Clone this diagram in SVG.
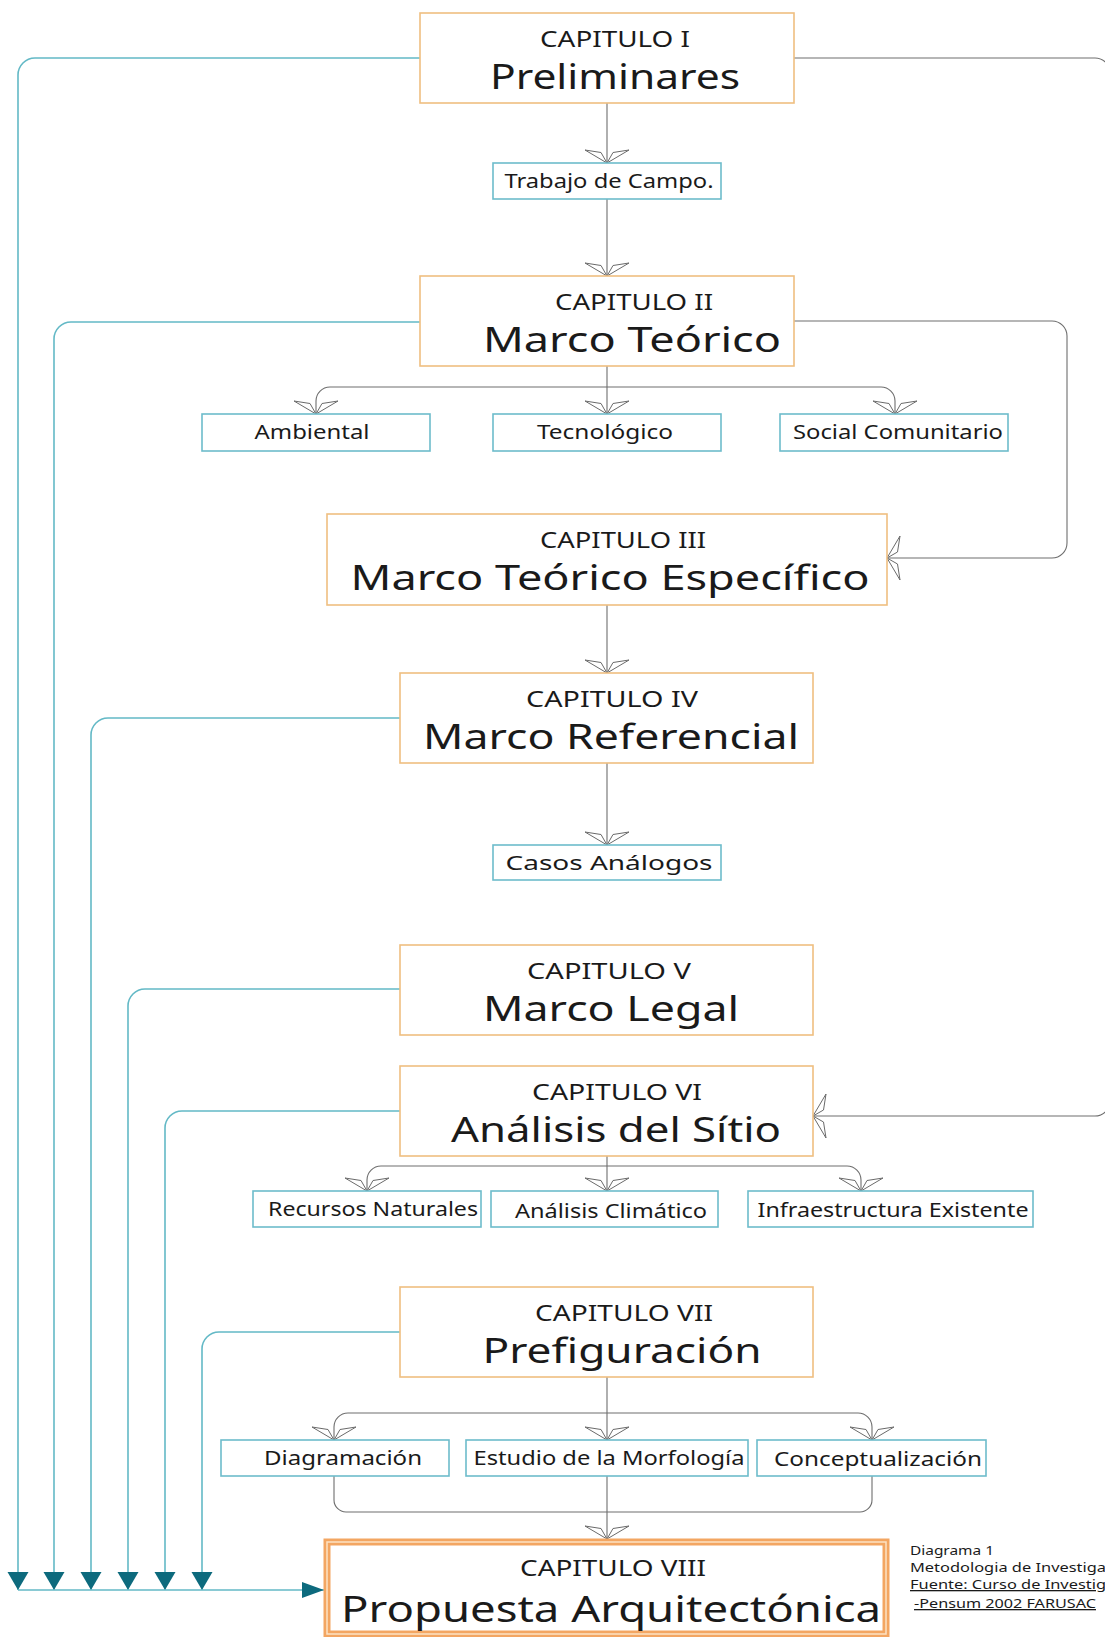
<svg xmlns="http://www.w3.org/2000/svg" width="1105" height="1637" viewBox="0 0 1105 1637">
<style>
text{font-family:"Noto Sans","Open Sans","DejaVu Sans",sans-serif;fill:#1a1a1a;text-anchor:middle}
.ob{fill:#fff;stroke:#efbf80;stroke-width:1.6}
.tb{fill:#fff;stroke:#6dbccb;stroke-width:1.6}
.cap{font-size:22px}
.ttl{font-size:35px}
.big{font-size:37px}
.lbl{font-size:20.5px}
.cn{fill:none;stroke:#6e6e6e;stroke-width:1.1}
.tl{fill:none;stroke:#63b9c6;stroke-width:1.6}
.cap2{font-size:13px;text-anchor:start}
</style>
<defs>
<marker id="oa" viewBox="-16 -24 18 48" refX="0" refY="0" markerWidth="18" markerHeight="48" markerUnits="userSpaceOnUse" orient="auto">
<path d="M0,0 L-13,-22 L-10.5,-6 Z M0,0 L-13,22 L-10.5,6 Z" fill="#fff" stroke="#6a6a6a" stroke-width="1" stroke-linejoin="round"/>
</marker>
<marker id="ta" viewBox="-19 -11 20 22" refX="0" refY="0" markerWidth="20" markerHeight="22" markerUnits="userSpaceOnUse" orient="auto">
<path d="M0,0 L-18,-10.5 L-18,10.5 Z" fill="#0d6a7d"/>
</marker>
<marker id="tr" viewBox="-23 -9 24 18" refX="0" refY="0" markerWidth="24" markerHeight="18" markerUnits="userSpaceOnUse" orient="auto">
<path d="M0,0 L-22,-8 L-22,8 Z" fill="#0d6a7d"/>
</marker>
</defs>
<rect width="1105" height="1637" fill="#fff"/>

<g id="connectors">
<path class="tl" d="M420,58 H35 A17,17 0 0 0 18,75 V1590" marker-end="url(#ta)"/>
<path class="tl" d="M420,322 H71 A17,17 0 0 0 54,339 V1590" marker-end="url(#ta)"/>
<path class="tl" d="M400,718 H108 A17,17 0 0 0 91,735 V1590" marker-end="url(#ta)"/>
<path class="tl" d="M400,989 H145 A17,17 0 0 0 128,1006 V1590" marker-end="url(#ta)"/>
<path class="tl" d="M400,1111 H182 A17,17 0 0 0 165,1128 V1590" marker-end="url(#ta)"/>
<path class="tl" d="M400,1332 H219 A17,17 0 0 0 202,1349 V1590" marker-end="url(#ta)"/>
<path class="tl" d="M18,1590 H324" marker-end="url(#tr)"/>

<path class="cn" d="M607,103 V163" marker-end="url(#oa)"/>
<path class="cn" d="M607,199 V276" marker-end="url(#oa)"/>
<path class="cn" d="M607,366 V414" marker-end="url(#oa)"/>
<path class="cn" d="M607,387 H330 A14,14 0 0 0 316,401 V414" marker-end="url(#oa)"/>
<path class="cn" d="M607,387 H881 A14,14 0 0 1 895,401 V414" marker-end="url(#oa)"/>
<path class="cn" d="M794,321 H1052 A15,15 0 0 1 1067,336 V543 A15,15 0 0 1 1052,558 H887" marker-end="url(#oa)"/>
<path class="cn" d="M794,58 H1095 A15,15 0 0 1 1110,73 V1101 A15,15 0 0 1 1095,1116 H813" marker-end="url(#oa)"/>
<path class="cn" d="M607,605 V673" marker-end="url(#oa)"/>
<path class="cn" d="M607,763 V845" marker-end="url(#oa)"/>
<path class="cn" d="M607,1156 V1191" marker-end="url(#oa)"/>
<path class="cn" d="M607,1166 H381 A14,14 0 0 0 367,1180 V1191" marker-end="url(#oa)"/>
<path class="cn" d="M607,1166 H847 A14,14 0 0 1 861,1180 V1191" marker-end="url(#oa)"/>
<path class="cn" d="M607,1377 V1440" marker-end="url(#oa)"/>
<path class="cn" d="M607,1413 H348 A14,14 0 0 0 334,1427 V1440" marker-end="url(#oa)"/>
<path class="cn" d="M607,1413 H858 A14,14 0 0 1 872,1427 V1440" marker-end="url(#oa)"/>
<path class="cn" d="M334,1476 V1500 A12,12 0 0 0 346,1512 H860 A12,12 0 0 0 872,1500 V1476"/>
<path class="cn" d="M607,1476 V1539" marker-end="url(#oa)"/>
</g>

<g id="cap1"><rect class="ob" x="420" y="13" width="374" height="90"/>
<text class="cap" x="615" y="47" textLength="150" lengthAdjust="spacingAndGlyphs">CAPITULO I</text>
<text class="ttl" x="615" y="89" textLength="250" lengthAdjust="spacingAndGlyphs">Preliminares</text></g>

<g id="trabajo"><rect class="tb" x="493" y="163" width="228" height="36"/>
<text class="lbl" x="609" y="188" textLength="209" lengthAdjust="spacingAndGlyphs">Trabajo de Campo.</text></g>

<g id="cap2"><rect class="ob" x="420" y="276" width="374" height="90"/>
<text class="cap" x="634" y="310" textLength="158" lengthAdjust="spacingAndGlyphs">CAPITULO II</text>
<text class="ttl" x="632" y="352" textLength="298" lengthAdjust="spacingAndGlyphs">Marco Teórico</text></g>

<g id="ambiental"><rect class="tb" x="202" y="414" width="228" height="37"/>
<text class="lbl" x="312" y="439" textLength="115" lengthAdjust="spacingAndGlyphs">Ambiental</text></g>
<g id="tecnologico"><rect class="tb" x="493" y="414" width="228" height="37"/>
<text class="lbl" x="605" y="439" textLength="136" lengthAdjust="spacingAndGlyphs">Tecnológico</text></g>
<g id="social"><rect class="tb" x="780" y="414" width="228" height="37"/>
<text class="lbl" x="898" y="439" textLength="210" lengthAdjust="spacingAndGlyphs">Social Comunitario</text></g>

<g id="cap3"><rect class="ob" x="327" y="514" width="560" height="91"/>
<text class="cap" x="623" y="548" textLength="166" lengthAdjust="spacingAndGlyphs">CAPITULO III</text>
<text class="ttl" x="610" y="590" textLength="519" lengthAdjust="spacingAndGlyphs">Marco Teórico Específico</text></g>

<g id="cap4"><rect class="ob" x="400" y="673" width="413" height="90"/>
<text class="cap" x="612" y="707" textLength="172" lengthAdjust="spacingAndGlyphs">CAPITULO IV</text>
<text class="ttl" x="611" y="749" textLength="376" lengthAdjust="spacingAndGlyphs">Marco Referencial</text></g>

<g id="casos"><rect class="tb" x="493" y="845" width="228" height="35"/>
<text class="lbl" x="609" y="870" textLength="207" lengthAdjust="spacingAndGlyphs">Casos Análogos</text></g>

<g id="cap5"><rect class="ob" x="400" y="945" width="413" height="90"/>
<text class="cap" x="609" y="979" textLength="164" lengthAdjust="spacingAndGlyphs">CAPITULO V</text>
<text class="ttl" x="611" y="1021" textLength="256" lengthAdjust="spacingAndGlyphs">Marco Legal</text></g>

<g id="cap6"><rect class="ob" x="400" y="1066" width="413" height="90"/>
<text class="cap" x="617" y="1100" textLength="170" lengthAdjust="spacingAndGlyphs">CAPITULO VI</text>
<text class="ttl" x="616" y="1142" textLength="330" lengthAdjust="spacingAndGlyphs">Análisis del Sítio</text></g>

<g id="recursos"><rect class="tb" x="253" y="1191" width="228" height="36"/>
<text class="lbl" x="373" y="1216" textLength="210" lengthAdjust="spacingAndGlyphs">Recursos Naturales</text></g>
<g id="climatico"><rect class="tb" x="491" y="1191" width="227" height="36"/>
<text class="lbl" x="611" y="1218" textLength="192" lengthAdjust="spacingAndGlyphs">Análisis Climático</text></g>
<g id="infraestructura"><rect class="tb" x="748" y="1191" width="285" height="36"/>
<text class="lbl" x="893" y="1217" textLength="271" lengthAdjust="spacingAndGlyphs">Infraestructura Existente</text></g>

<g id="cap7"><rect class="ob" x="400" y="1287" width="413" height="90"/>
<text class="cap" x="624" y="1321" textLength="178" lengthAdjust="spacingAndGlyphs">CAPITULO VII</text>
<text class="ttl" x="622" y="1363" textLength="279" lengthAdjust="spacingAndGlyphs">Prefiguración</text></g>

<g id="diagramacion"><rect class="tb" x="221" y="1440" width="228" height="36"/>
<text class="lbl" x="343" y="1465" textLength="158" lengthAdjust="spacingAndGlyphs">Diagramación</text></g>
<g id="morfologia"><rect class="tb" x="466" y="1440" width="282" height="36"/>
<text class="lbl" x="609" y="1465" textLength="271" lengthAdjust="spacingAndGlyphs">Estudio de la Morfología</text></g>
<g id="conceptualizacion"><rect class="tb" x="757" y="1440" width="229" height="36"/>
<text class="lbl" x="878" y="1466" textLength="208" lengthAdjust="spacingAndGlyphs">Conceptualización</text></g>

<g id="cap8"><rect x="327" y="1542" width="559" height="92" fill="#fff" stroke="#f3a662" stroke-width="7"/>
<rect x="327" y="1542" width="559" height="92" fill="none" stroke="#fde2c4" stroke-width="1.5"/>
<text class="cap" x="613" y="1576" textLength="186" lengthAdjust="spacingAndGlyphs">CAPITULO VIII</text>
<text class="big" x="611" y="1622" textLength="540" lengthAdjust="spacingAndGlyphs">Propuesta Arquitectónica</text></g>

<g id="caption">
<text class="cap2" x="910" y="1555" textLength="84" lengthAdjust="spacingAndGlyphs">Diagrama 1</text>
<text class="cap2" x="910" y="1572" textLength="196" lengthAdjust="spacingAndGlyphs">Metodologia de Investiga</text>
<text class="cap2" x="910" y="1589" textLength="196" lengthAdjust="spacingAndGlyphs" text-decoration="underline">Fuente: Curso de Investig</text>
<text class="cap2" x="914" y="1608" textLength="182" lengthAdjust="spacingAndGlyphs" text-decoration="underline">-Pensum 2002 FARUSAC</text>
</g>
</svg>
